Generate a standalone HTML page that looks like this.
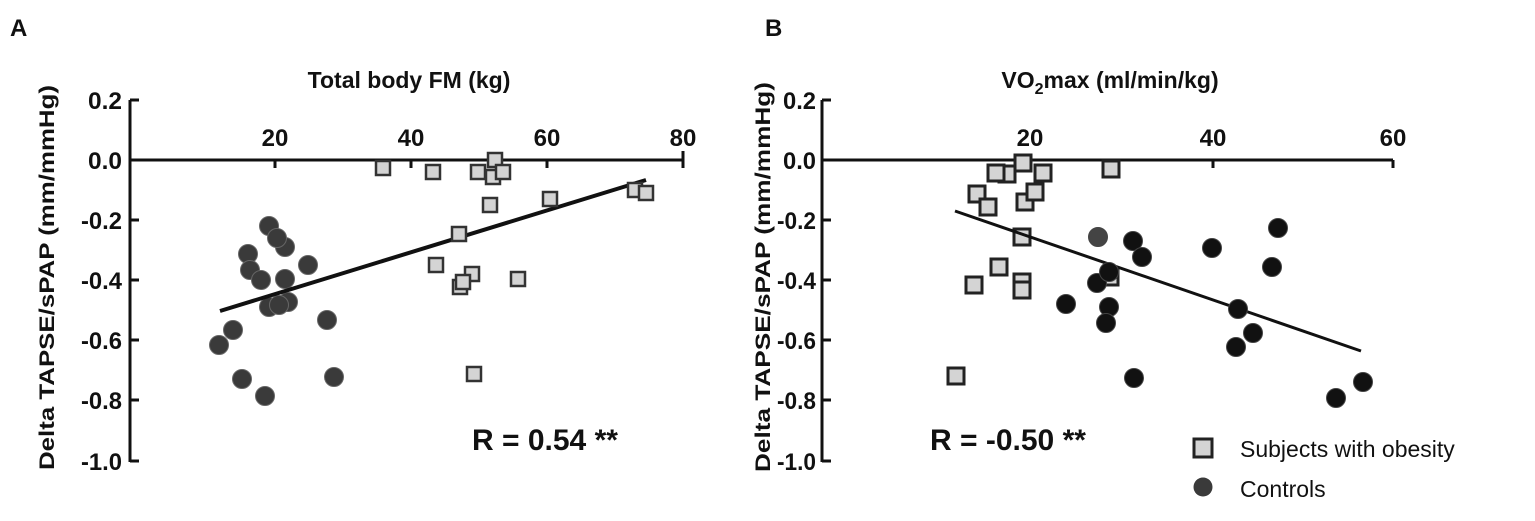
<!DOCTYPE html>
<html><head><meta charset="utf-8"><style>
body{margin:0;background:#fff;}
text{font-family:"Liberation Sans",Arial,sans-serif;}
</style></head><body>
<svg width="1535" height="516" xmlns="http://www.w3.org/2000/svg">
<rect width="1535" height="516" fill="#fff"/>
<g font-weight="bold" fill="#111">
<text x="10" y="36" font-size="24">A</text>
<text x="765" y="36" font-size="24">B</text>
<text x="409" y="88" font-size="23" text-anchor="middle">Total body FM (kg)</text>
<text x="1110" y="88" font-size="23" text-anchor="middle">VO<tspan font-size="16" dy="6">2</tspan><tspan dy="-6">max (ml/min/kg)</tspan></text>
<text transform="translate(54,470) rotate(-90)" font-size="21" textLength="385" lengthAdjust="spacingAndGlyphs">Delta TAPSE/sPAP (mm/mmHg)</text>
<text transform="translate(770,472) rotate(-90)" font-size="21" textLength="390" lengthAdjust="spacingAndGlyphs">Delta TAPSE/sPAP (mm/mmHg)</text>
</g>
<!-- Panel A axes -->
<g stroke="#111" stroke-width="3" fill="none">
<line x1="130" y1="100" x2="130" y2="462"/>
<line x1="130" y1="160" x2="683" y2="160"/>
<line x1="130" y1="100" x2="139" y2="100"/><line x1="130" y1="220" x2="139" y2="220"/><line x1="130" y1="280" x2="139" y2="280"/><line x1="130" y1="340" x2="139" y2="340"/><line x1="130" y1="400" x2="139" y2="400"/><line x1="130" y1="461" x2="139" y2="461"/>
<line x1="275" y1="160" x2="275" y2="168"/><line x1="411" y1="160" x2="411" y2="168"/><line x1="547" y1="160" x2="547" y2="168"/><line x1="683" y1="151" x2="683" y2="168"/>
</g>
<g font-size="24" font-weight="bold" fill="#111" text-anchor="end">
<text x="122" y="109" textLength="34" lengthAdjust="spacingAndGlyphs">0.2</text><text x="122" y="169" textLength="34" lengthAdjust="spacingAndGlyphs">0.0</text><text x="122" y="229" textLength="41" lengthAdjust="spacingAndGlyphs">-0.2</text><text x="122" y="289" textLength="41" lengthAdjust="spacingAndGlyphs">-0.4</text><text x="122" y="349" textLength="41" lengthAdjust="spacingAndGlyphs">-0.6</text><text x="122" y="409" textLength="41" lengthAdjust="spacingAndGlyphs">-0.8</text><text x="122" y="470" textLength="41" lengthAdjust="spacingAndGlyphs">-1.0</text>
</g>
<g font-size="24" font-weight="bold" fill="#111" text-anchor="middle">
<text x="275" y="146">20</text><text x="411" y="146">40</text><text x="547" y="146">60</text><text x="683" y="146">80</text>
</g>
<!-- Panel B axes -->
<g stroke="#111" stroke-width="3" fill="none">
<line x1="822" y1="100" x2="822" y2="462"/>
<line x1="822" y1="160" x2="1393" y2="160"/>
<line x1="822" y1="100" x2="831" y2="100"/><line x1="822" y1="220" x2="831" y2="220"/><line x1="822" y1="280" x2="831" y2="280"/><line x1="822" y1="340" x2="831" y2="340"/><line x1="822" y1="400" x2="831" y2="400"/><line x1="822" y1="461" x2="831" y2="461"/>
<line x1="1030" y1="160" x2="1030" y2="168"/><line x1="1213" y1="160" x2="1213" y2="168"/><line x1="1393" y1="160" x2="1393" y2="168"/>
</g>
<g font-size="24" font-weight="bold" fill="#111" text-anchor="end">
<text x="816" y="109" textLength="33" lengthAdjust="spacingAndGlyphs">0.2</text><text x="816" y="169" textLength="33" lengthAdjust="spacingAndGlyphs">0.0</text><text x="816" y="229" textLength="39" lengthAdjust="spacingAndGlyphs">-0.2</text><text x="816" y="289" textLength="39" lengthAdjust="spacingAndGlyphs">-0.4</text><text x="816" y="349" textLength="39" lengthAdjust="spacingAndGlyphs">-0.6</text><text x="816" y="409" textLength="39" lengthAdjust="spacingAndGlyphs">-0.8</text><text x="816" y="470" textLength="39" lengthAdjust="spacingAndGlyphs">-1.0</text>
</g>
<g font-size="24" font-weight="bold" fill="#111" text-anchor="middle">
<text x="1030" y="146">20</text><text x="1213" y="146">40</text><text x="1393" y="146">60</text>
</g>
<!-- Panel A data -->
<g fill="#3a3a3a" stroke="#666" stroke-width="1">
<circle cx="269" cy="226" r="9.5"/><circle cx="285" cy="247" r="9.5"/><circle cx="277" cy="238" r="9.5"/><circle cx="248" cy="254" r="9.5"/><circle cx="250" cy="270" r="9.5"/><circle cx="261" cy="280" r="9.5"/><circle cx="285" cy="279" r="9.5"/><circle cx="308" cy="265" r="9.5"/><circle cx="269" cy="307" r="9.5"/><circle cx="288" cy="302" r="9.5"/><circle cx="279" cy="305" r="9.5"/><circle cx="327" cy="320" r="9.5"/><circle cx="233" cy="330" r="9.5"/><circle cx="219" cy="345" r="9.5"/><circle cx="242" cy="379" r="9.5"/><circle cx="334" cy="377" r="9.5"/><circle cx="265" cy="396" r="9.5"/>
</g>
<line x1="220" y1="311" x2="646" y2="180" stroke="#111" stroke-width="4"/>
<g fill="#d4d4d4" stroke="#333" stroke-width="2.5">
<rect x="376" y="161" width="14" height="14"/><rect x="426" y="165" width="14" height="14"/><rect x="471" y="165" width="14" height="14"/><rect x="486" y="170" width="14" height="14"/><rect x="488" y="153" width="14" height="14"/><rect x="496" y="165" width="14" height="14"/><rect x="483" y="198" width="14" height="14"/><rect x="543" y="192" width="14" height="14"/><rect x="452" y="227" width="14" height="14"/><rect x="429" y="258" width="14" height="14"/><rect x="465" y="267" width="14" height="14"/><rect x="453" y="280" width="14" height="14"/><rect x="456" y="275" width="14" height="14"/><rect x="511" y="272" width="14" height="14"/><rect x="467" y="367" width="14" height="14"/><rect x="628" y="183" width="14" height="14"/><rect x="639" y="186" width="14" height="14"/>
</g>
<text x="472" y="450" font-size="30" font-weight="bold" fill="#111">R = 0.54 **</text>
<!-- Panel B data -->
<g fill="#d4d4d4" stroke="#222" stroke-width="3">
<rect x="948" y="368" width="16" height="16"/><rect x="999" y="166" width="16" height="16"/><rect x="988" y="165" width="16" height="16"/><rect x="1035" y="165" width="16" height="16"/><rect x="1015" y="155" width="16" height="16"/><rect x="969" y="186" width="16" height="16"/><rect x="980" y="199" width="16" height="16"/><rect x="1017" y="194" width="16" height="16"/><rect x="1027" y="184" width="16" height="16"/><rect x="1103" y="161" width="16" height="16"/><rect x="1014" y="229" width="16" height="16"/><rect x="991" y="259" width="16" height="16"/><rect x="966" y="277" width="16" height="16"/><rect x="1014" y="274" width="16" height="16"/><rect x="1014" y="282" width="16" height="16"/><rect x="1102" y="269" width="16" height="16"/>
</g>
<line x1="955" y1="211" x2="1361" y2="351" stroke="#111" stroke-width="3"/>
<g fill="#111" stroke="#444" stroke-width="1">
<circle cx="1098" cy="237" r="9.5" fill="#444"/><circle cx="1133" cy="241" r="9.5"/><circle cx="1142" cy="257" r="9.5"/><circle cx="1212" cy="248" r="9.5"/><circle cx="1278" cy="228" r="9.5"/><circle cx="1272" cy="267" r="9.5"/><circle cx="1097" cy="283" r="9.5"/><circle cx="1109" cy="272" r="9.5"/><circle cx="1109" cy="307" r="9.5"/><circle cx="1106" cy="323" r="9.5"/><circle cx="1066" cy="304" r="9.5"/><circle cx="1238" cy="309" r="9.5"/><circle cx="1253" cy="333" r="9.5"/><circle cx="1236" cy="347" r="9.5"/><circle cx="1134" cy="378" r="9.5"/><circle cx="1363" cy="382" r="9.5"/><circle cx="1336" cy="398" r="9.5"/>
</g>
<text x="930" y="450" font-size="30" font-weight="bold" fill="#111">R = -0.50 **</text>
<!-- Legend -->
<rect x="1194" y="439" width="18" height="18" fill="#d4d4d4" stroke="#222" stroke-width="3"/>
<circle cx="1203" cy="487" r="9.5" fill="#3a3a3a"/>
<text x="1240" y="457" font-size="23" fill="#111">Subjects with obesity</text>
<text x="1240" y="497" font-size="23" fill="#111">Controls</text>
</svg>
</body></html>
